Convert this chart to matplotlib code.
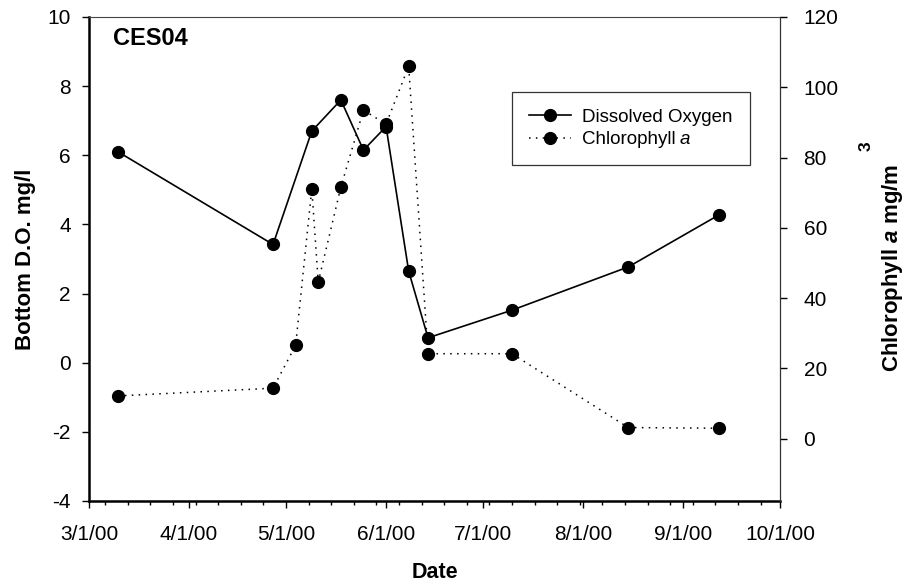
import matplotlib
matplotlib.use("Agg")
import matplotlib.pyplot as plt
import matplotlib.dates as mdates
import numpy as np
import pandas as pd

plt.rcParams['font.family'] = ['Liberation Sans', 'DejaVu Sans']
plt.rcParams['mathtext.fontset'] = 'custom'
plt.rcParams['mathtext.rm'] = 'Liberation Sans:bold'
plt.rcParams['mathtext.it'] = 'Liberation Sans:bold:italic'
plt.rcParams['mathtext.bf'] = 'Liberation Sans:bold'

# Data
do_dates = ["2000-03-10", "2000-04-27", "2000-05-09", "2000-05-18", "2000-05-25",
            "2000-06-01", "2000-06-08", "2000-06-14", "2000-07-10", "2000-08-15",
            "2000-09-12"]
do_values = [6.1, 3.42, 6.7, 7.6, 6.15, 6.83, 2.65, 0.72, 1.52, 2.77, 4.27]

chl_dates = ["2000-03-10", "2000-04-27", "2000-05-04", "2000-05-09", "2000-05-11",
             "2000-05-18", "2000-05-25", "2000-06-01", "2000-06-08", "2000-06-14",
             "2000-07-10", "2000-08-15", "2000-09-12"]
chl_values = [12.2, 14.4, 26.6, 71.1, 44.6, 71.6, 93.5, 89.5, 106.0, 24.2,
              24.2, 3.2, 3.0]

left_ticks = [-4, -2, 0, 2, 4, 6, 8, 10]
right_ticks = [0, 20, 40, 60, 80, 100, 120]
x_tick_dates = ["2000-03-01", "2000-04-01", "2000-05-01", "2000-06-01",
                "2000-07-01", "2000-08-01", "2000-09-01", "2000-10-01"]
x_tick_labels = ["3/1/00", "4/1/00", "5/1/00", "6/1/00", "7/1/00", "8/1/00",
                 "9/1/00", "10/1/00"]

do_x = pd.to_datetime(do_dates)
chl_x = pd.to_datetime(chl_dates)
xt = pd.to_datetime(x_tick_dates)

W, H = 904, 587
fig = plt.figure(figsize=(W / 100, H / 100), dpi=100)
ax = fig.add_axes([89 / W, 86 / H, 691 / W, 484 / H])
ax2 = ax.twinx()

ms = 8.5
l1, = ax.plot(do_x, do_values, color='black', lw=1.2, marker='o', ms=ms,
              label='Dissolved Oxygen')
l2, = ax2.plot(chl_x, chl_values, color='black', lw=1.1, ls=(0, (1, 3.5)),
               marker='o', ms=ms, label='Chlorophyll a')

ax.set_xlim(xt[0], xt[-1])
ax.set_ylim(-4, 10)
ax2.set_ylim(-17.7, 120)
ax.set_yticks(left_ticks)
ax.set_yticklabels([str(t) for t in left_ticks])
ax2.set_yticks(right_ticks)
ax2.set_yticklabels([str(t) for t in right_ticks])

ax.set_xticks(xt)
ax.set_xticklabels(x_tick_labels)
ax.xaxis.set_minor_locator(mdates.WeekdayLocator(byweekday=mdates.MO))

tick_fs = 15
ax.tick_params(axis='x', which='major', direction='out', length=5, width=1.0,
               labelsize=tick_fs, pad=12)
ax.tick_params(axis='x', which='minor', direction='out', length=3, width=1.0)
ax.tick_params(axis='y', which='major', direction='out', length=5, width=1.0,
               labelsize=tick_fs, pad=8)
ax2.tick_params(axis='y', which='major', direction='out', length=5, width=1.0,
                labelsize=tick_fs, pad=12, colors='black')

for s in ['left', 'bottom']:
    ax.spines[s].set_linewidth(1.8)
ax.spines['top'].set_linewidth(0.8)
ax.spines['top'].set_color('#444444')
for s in ['left', 'bottom', 'top']:
    ax2.spines[s].set_visible(False)
ax2.spines['right'].set_linewidth(0.9)
ax2.spines['right'].set_color('#333333')
ax.spines['right'].set_visible(False)

ax.set_ylabel('Bottom D.O. mg/l', fontsize=16, fontweight='bold', labelpad=8)
ax.set_xlabel('Date', fontsize=15.5, fontweight='bold', labelpad=13)

# Right axis label (with raised superscript as in the original)
fig.text(893 / W, 1 - 268 / H, 'Chlorophyll $a$ mg/m', rotation=90,
         fontsize=16, fontweight='bold', ha='center', va='center')
fig.text(866 / W, 1 - 146 / H, '3', rotation=90,
         fontsize=12.5, fontweight='bold', ha='center', va='center')

ax.text((112.7 - 89) / 691, (501 - 45) / 484, 'CES04', transform=ax.transAxes,
        fontsize=17, fontweight='bold', ha='left', va='baseline')

leg = ax2.legend(handles=[l1, l2], loc='upper left',
                 bbox_to_anchor=((511.7 - 89) / 691, (501 - 91.7) / 484),
                 fontsize=13.5, frameon=True, fancybox=False,
                 edgecolor='black', handlelength=2.25, borderpad=0.9,
                 labelspacing=0.3, handletextpad=0.62, borderaxespad=0)
leg.get_frame().set_linewidth(0.9)
leg.texts[1].set_text('Chlorophyll')

fig.canvas.draw()
bb = leg.texts[1].get_window_extent()
fig.text(bb.x1 / W + 4 / W, bb.y0 / H, 'a', fontsize=13.5, style='italic',
         ha='left', va='bottom')

fig.savefig('out.png', dpi=100)
